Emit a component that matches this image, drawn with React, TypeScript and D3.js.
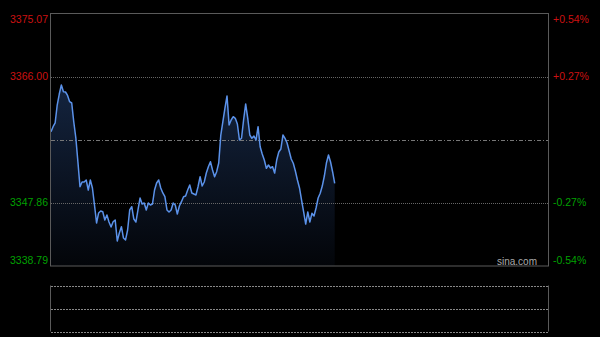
import React from "react";
import * as d3 from "d3";

// Price levels (left axis) and percent change (right axis)
const priceTicks = [3375.07, 3366.0, 3347.86, 3338.79];
const pctTicks = ["+0.54%", "+0.27%", "-0.27%", "-0.54%"];
const prevClose = 3356.93;
const sessionMinutes = 240; // 09:30-11:30, 13:00-15:00

// Per-minute index values
const prices = [
  3358.09, 3358.8, 3359.34, 3361.92, 3363.5, 3364.8, 3363.83, 3363.79, 3363.29, 3362.4,
  3362.21, 3359.48, 3357.18, 3353.73, 3350.18, 3350.86, 3350.86, 3351.15, 3349.71, 3351.15,
  3350.0, 3347.55, 3344.97, 3346.41, 3346.69, 3346.59, 3345.4, 3346.12, 3345.11, 3344.39,
  3345.15, 3345.4, 3342.38, 3343.53, 3344.44, 3342.81, 3342.53, 3343.96, 3346.84, 3347.31,
  3345.54, 3345.11, 3346.84, 3348.56, 3347.7, 3347.84, 3346.84, 3347.84, 3347.55, 3347.7,
  3349.71, 3350.72, 3351.15, 3350.0, 3349.28, 3348.75, 3346.84, 3346.55, 3346.84, 3347.84,
  3347.55, 3346.26, 3347.41, 3348.03, 3348.75, 3348.85, 3349.71, 3350.43, 3349.28, 3349.13,
  3348.99, 3350.18, 3351.62, 3350.28, 3350.86, 3352.15, 3353.06, 3353.78, 3352.58, 3351.62,
  3352.34, 3353.59, 3357.61, 3359.52, 3361.49, 3363.22, 3359.05, 3359.77, 3360.24, 3360.01,
  3359.19, 3356.89, 3357.14, 3359.77, 3362.07, 3360.05, 3357.61, 3357.14, 3357.47, 3356.89,
  3358.8, 3355.93, 3354.88, 3354.02, 3352.83, 3353.3, 3352.87, 3353.06, 3352.15, 3354.02,
  3355.17, 3355.6, 3357.61, 3357.14, 3356.46, 3355.31, 3354.16, 3353.55, 3352.44, 3351.15,
  3350.0, 3348.27, 3346.55, 3344.82, 3346.55, 3345.11, 3346.36, 3345.97, 3347.12, 3348.56,
  3349.24, 3350.28, 3351.72, 3353.59, 3354.74, 3353.73, 3352.3, 3350.67,
];

const W = 600;
const H = 337;
const left = 51;
const right = 548;
const top = 13.5;
const bottom = 266;
const volTop = 285.5;
const volBottom = 331.5;

const FONT = "'Liberation Sans', Arial, sans-serif";

export default function App() {
  React.useEffect(() => {
    document.body.style.margin = "0";
    document.body.style.background = "#000";
  }, []);

  const x = d3.scaleLinear().domain([0, sessionMinutes]).range([left, right]);
  const y = d3
    .scaleLinear()
    .domain([priceTicks[priceTicks.length - 1], priceTicks[0]])
    .range([bottom, top]);

  const data = prices.map((p, i) => ({ i, p }));
  const line = d3
    .line<{ i: number; p: number }>()
    .x((d) => x(d.i))
    .y((d) => y(d.p));
  const area = d3
    .area<{ i: number; p: number }>()
    .x((d) => x(d.i))
    .y0(bottom)
    .y1((d) => y(d.p));

  const labelY = (k: number) => {
    const v = y(priceTicks[k]);
    if (k === 0) return v + 9.5;
    if (k === priceTicks.length - 1) return v - 2.5;
    return v + 3.6;
  };
  const labelColor = (k: number) => (priceTicks[k] > prevClose ? "#cc1111" : "#00a000");

  return (
    <svg
      width={W}
      height={H}
      style={{ position: "absolute", left: 0, top: 0, background: "#000", display: "block" }}
    >
      <defs>
        <linearGradient id="fillGrad" gradientUnits="userSpaceOnUse" x1="0" y1={y(3365)} x2="0" y2={bottom}>
          <stop offset="0" stopColor="#14243f" />
          <stop offset="1" stopColor="#030509" />
        </linearGradient>
      </defs>
      <rect x={0} y={0} width={W} height={H} fill="#000" />

      {/* area */}
      <path d={area(data) ?? ""} fill="url(#fillGrad)" />

      {/* grid lines */}
      {[1, 2].map((k) => (
        <line
          key={k}
          x1={left}
          x2={right}
          y1={Math.round(y(priceTicks[k])) + 0.5}
          y2={Math.round(y(priceTicks[k])) + 0.5}
          stroke="#666"
          strokeDasharray="1,1"
        />
      ))}
      <line
        x1={left}
        x2={right}
        y1={Math.round(y(prevClose)) + 0.5}
        y2={Math.round(y(prevClose)) + 0.5}
        stroke="#777"
        strokeDasharray="4,2,1,2"
      />

      {/* price line */}
      <path d={line(data) ?? ""} fill="none" stroke="#5b92ea" strokeWidth={1.5} strokeLinejoin="round" />

      {/* main frame */}
      <rect
        x={left - 0.5}
        y={top}
        width={right - left + 1}
        height={bottom - top}
        fill="none"
        stroke="#5a5a5a"
        strokeWidth={1}
      />

      {/* labels */}
      {priceTicks.map((t, k) => (
        <text
          key={"l" + k}
          x={48}
          y={labelY(k)}
          textAnchor="end"
          fontFamily={FONT}
          fontSize={10.5}
          fill={labelColor(k)}
        >
          {t.toFixed(2)}
        </text>
      ))}
      {pctTicks.map((t, k) => (
        <text
          key={"r" + k}
          x={553}
          y={labelY(k)}
          textAnchor="start"
          fontFamily={FONT}
          fontSize={10.5}
          fill={labelColor(k)}
        >
          {t}
        </text>
      ))}

      <text x={537} y={265} textAnchor="end" fontFamily={FONT} fontSize={10} fill="#aaa">
        sina.com
      </text>

      {/* volume panel */}
      <line x1={left - 0.5} x2={left - 0.5} y1={volTop} y2={volBottom} stroke="#5a5a5a" />
      <line x1={right + 0.5} x2={right + 0.5} y1={volTop} y2={volBottom} stroke="#5a5a5a" />
      {[volTop, (volTop + volBottom) / 2, volBottom].map((yy, k) => (
        <line
          key={"v" + k}
          x1={left}
          x2={right}
          y1={Math.round(yy) + 0.5}
          y2={Math.round(yy) + 0.5}
          stroke="#888"
          strokeDasharray="2,1"
        />
      ))}
    </svg>
  );
}
